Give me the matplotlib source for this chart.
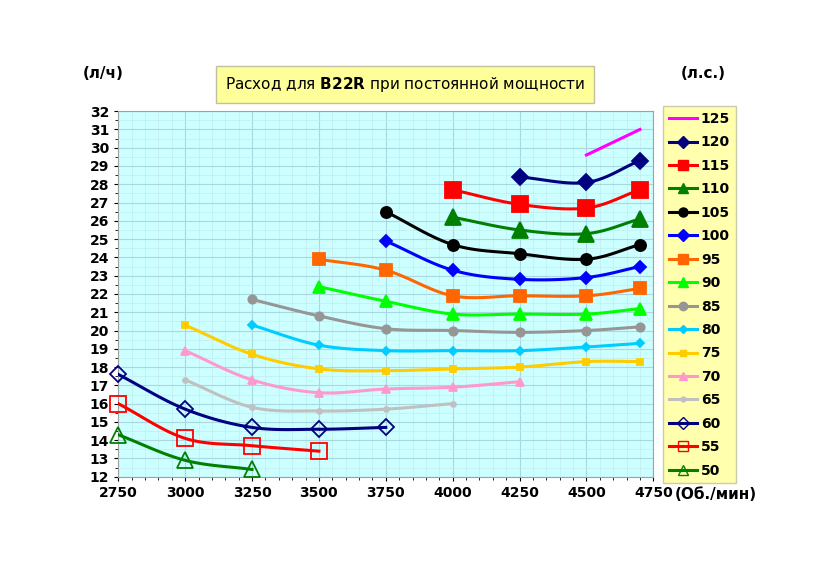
import matplotlib.pyplot as plt
import numpy as np
from matplotlib.ticker import MultipleLocator

# данные: обороты и расход для каждой мощности
power = [125, 120, 115, 110, 105, 100, 95, 90, 85, 80, 75, 70, 65, 60, 55, 50]
rpm = {
    125: [4500, 4700],
    120: [4250, 4500, 4700],
    115: [4000, 4250, 4500, 4700],
    110: [4000, 4250, 4500, 4700],
    105: [3750, 4000, 4250, 4500, 4700],
    100: [3750, 4000, 4250, 4500, 4700],
    95: [3500, 3750, 4000, 4250, 4500, 4700],
    90: [3500, 3750, 4000, 4250, 4500, 4700],
    85: [3250, 3500, 3750, 4000, 4250, 4500, 4700],
    80: [3250, 3500, 3750, 4000, 4250, 4500, 4700],
    75: [3000, 3250, 3500, 3750, 4000, 4250, 4500, 4700],
    70: [3000, 3250, 3500, 3750, 4000, 4250],
    65: [3000, 3250, 3500, 3750, 4000],
    60: [2750, 3000, 3250, 3500, 3750],
    55: [2750, 3000, 3250, 3500],
    50: [2750, 3000, 3250],
}
flow = {
    125: [29.6, 31.0],
    120: [28.4, 28.1, 29.3],
    115: [27.7, 26.9, 26.7, 27.7],
    110: [26.2, 25.5, 25.3, 26.1],
    105: [26.5, 24.7, 24.2, 23.9, 24.7],
    100: [24.9, 23.3, 22.8, 22.9, 23.5],
    95: [23.9, 23.3, 21.9, 21.9, 21.9, 22.3],
    90: [22.4, 21.6, 20.9, 20.9, 20.9, 21.2],
    85: [21.7, 20.8, 20.1, 20.0, 19.9, 20.0, 20.2],
    80: [20.3, 19.2, 18.9, 18.9, 18.9, 19.1, 19.3],
    75: [20.3, 18.7, 17.9, 17.8, 17.9, 18.0, 18.3, 18.3],
    70: [18.9, 17.3, 16.6, 16.8, 16.9, 17.2],
    65: [17.3, 15.8, 15.6, 15.7, 16.0],
    60: [17.6, 15.7, 14.7, 14.6, 14.7],
    55: [16.0, 14.1, 13.7, 13.4],
    50: [14.3, 12.9, 12.4],
}

# стиль: цвет, маркер, размер, заливка
styles = {
    125: ('#ff00ff', None, 0, True),
    120: ('#000080', 'D', 8, True),
    115: ('#ff0000', 's', 11, True),
    110: ('#008000', '^', 11, True),
    105: ('#000000', 'o', 8, True),
    100: ('#0000ff', 'D', 6, True),
    95: ('#ff6600', 's', 8, True),
    90: ('#00ff00', '^', 8, True),
    85: ('#969696', 'o', 6, True),
    80: ('#00ccff', 'D', 4.5, True),
    75: ('#ffcc00', 's', 5, True),
    70: ('#ff99cc', '^', 6, True),
    65: ('#c0c0c0', 'o', 3.5, True),
    60: ('#000080', 'D', 8, False),
    55: ('#ff0000', 's', 11, False),
    50: ('#008000', '^', 11, False),
}


def smooth(x, y, n=20):
    # сглаживание как в Excel (Catmull-Rom)
    x = np.asarray(x, float)
    y = np.asarray(y, float)
    if len(x) < 3:
        return x, y
    px = np.concatenate([[2 * x[0] - x[1]], x, [2 * x[-1] - x[-2]]])
    py = np.concatenate([[2 * y[0] - y[1]], y, [2 * y[-1] - y[-2]]])
    xs, ys = [], []
    t = np.linspace(0, 1, n)
    for i in range(1, len(px) - 2):
        for p, out in ((px, xs), (py, ys)):
            p0, p1, p2, p3 = p[i - 1], p[i], p[i + 1], p[i + 2]
            out.extend(0.5 * (2 * p1 + (-p0 + p2) * t
                              + (2 * p0 - 5 * p1 + 4 * p2 - p3) * t ** 2
                              + (-p0 + 3 * p1 - 3 * p2 + p3) * t ** 3))
    return np.array(xs), np.array(ys)


fig = plt.figure(figsize=(8.27, 5.85), dpi=100)
ax = fig.add_axes([0.143, 0.185, 0.647, 0.625])
ax.set_facecolor('#ccffff')

handles = []
for p in power:
    c, m, s, filled = styles[p]
    sx, sy = smooth(rpm[p], flow[p])
    ax.plot(sx, sy, color=c, lw=2.2, zorder=3)
    if m:
        ax.plot(rpm[p], flow[p], ls='none', marker=m, ms=s, color=c,
                mfc=c if filled else 'none', mew=1.3, zorder=4, clip_on=False)
    h, = ax.plot([], [], color=c, lw=2.2, marker=m, ms=min(s, 6.5) if m else 0,
                 mfc=c if filled else 'none')
    handles.append(h)

ax.set_xlim(2750, 4750)
ax.set_ylim(12, 32)
ax.set_xticks([2750, 3000, 3250, 3500, 3750, 4000, 4250, 4500, 4750])
ax.set_yticks(range(12, 33))
ax.xaxis.set_minor_locator(MultipleLocator(50))
ax.yaxis.set_minor_locator(MultipleLocator(0.5))
ax.set_axisbelow(True)
ax.grid(which='major', color='#a8d8e0', lw=0.8)
ax.grid(which='minor', color='#c4ecee', lw=0.5)
ax.tick_params(labelsize=10, length=3)
for lab in ax.get_xticklabels() + ax.get_yticklabels():
    lab.set_fontweight('bold')
for sp in ax.spines.values():
    sp.set_color('#a0a0a0')

fig.text(0.125, 0.867, '(л/ч)', fontsize=11, fontweight='bold', ha='center')
fig.text(0.85, 0.867, '(л.с.)', fontsize=11, fontweight='bold', ha='center')
fig.text(0.865, 0.147, '(Об./мин)', fontsize=11, fontweight='bold', ha='center')
fig.text(0.49, 0.855, 'Расход для $\\mathbf{B22R}$ при постоянной мощности',
         fontsize=11, ha='center', va='center',
         bbox=dict(boxstyle='square,pad=0.6', fc='#ffff99', ec='#c0c0a0'))

leg = fig.legend(handles, [str(p) for p in power], loc='upper left',
                 bbox_to_anchor=(0.802, 0.818), frameon=True, fancybox=False,
                 handlelength=2.0, labelspacing=0.68, borderpad=0.4,
                 borderaxespad=0, prop={'weight': 'bold', 'size': 10},
                 handletextpad=0.3)
leg.get_frame().set_facecolor('#ffff99')
leg.get_frame().set_edgecolor('#c0c0a0')

plt.savefig('out.png', dpi=100)
